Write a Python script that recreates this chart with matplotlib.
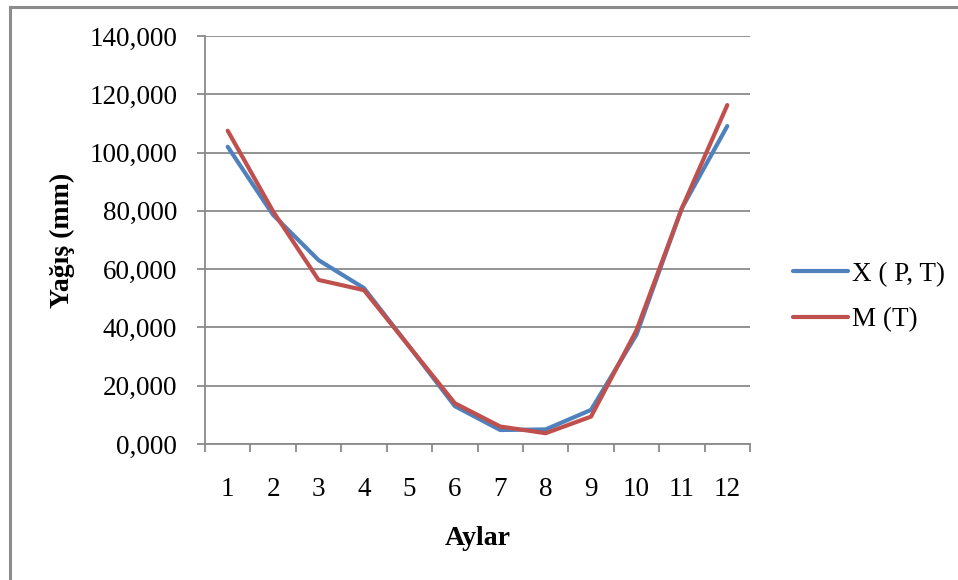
import matplotlib
matplotlib.use("Agg")
import matplotlib.pyplot as plt
from matplotlib.lines import Line2D
from matplotlib.ticker import FuncFormatter

# Monthly precipitation (mm), two estimation methods
months = [1, 2, 3, 4, 5, 6, 7, 8, 9, 10, 11, 12]
x_pt = [102.0, 78.6, 63.1, 53.5, 33.4, 13.0, 4.8, 5.0, 11.7, 37.5, 80.9, 109.1]
m_t = [107.5, 79.8, 56.3, 52.8, 33.4, 14.0, 6.0, 3.7, 9.4, 39.0, 80.9, 116.3]
series_names = ["X ( P, T)", "M (T)"]
y_ticks = [0, 20, 40, 60, 80, 100, 120, 140]

plt.rcParams['font.family'] = ['Liberation Serif', 'DejaVu Serif']

W, H = 958, 580
fig = plt.figure(figsize=(W / 100, H / 100), dpi=100)

# chart area frame (top and left edges)
fig.add_artist(Line2D([10 / W, 10 / W], [0, 1 - 7 / H], color="#8c8c8c", lw=2.2,
                      transform=fig.transFigure))
fig.add_artist(Line2D([10 / W, 1], [1 - 7 / H, 1 - 7 / H], color="#8c8c8c", lw=2.2,
                      transform=fig.transFigure))

left, right, top, bottom = 205, 750, 36, 444
ax = fig.add_axes([left / W, 1 - bottom / H, (right - left) / W, (bottom - top) / H])

grid_c = "#8a8a8a"
fs_tick = 19.5
fs_label = 20

ax.plot(months, x_pt, color="#4F81BD", lw=3.0, solid_capstyle="round",
        solid_joinstyle="round", label=series_names[0], zorder=3)
ax.plot(months, m_t, color="#C0504D", lw=3.0, solid_capstyle="round",
        solid_joinstyle="round", label=series_names[1], zorder=4)

ax.set_xlim(0.5, 12.5)
ax.set_ylim(0, 140)
ax.set_yticks(y_ticks)
ax.yaxis.set_major_formatter(FuncFormatter(lambda v, p: f"{int(v)},000"))
ax.set_xticks(months)
ax.set_xticks([m + 0.5 for m in [0] + months], minor=True)
ax.tick_params(axis="x", which="major", length=0, pad=24, labelsize=fs_tick)
ax.tick_params(axis="x", which="minor", length=6, width=1.3, color=grid_c, direction="out")
ax.tick_params(axis="y", length=6, width=1.3, color=grid_c, direction="out", pad=14,
               labelsize=fs_tick)

ax.grid(axis="y", color=grid_c, lw=1.3)
ax.set_axisbelow(True)
for s in ["top", "right"]:
    ax.spines[s].set_visible(False)
for s in ["left", "bottom"]:
    ax.spines[s].set_color(grid_c)
    ax.spines[s].set_linewidth(1.3)

ax.set_xlabel("Aylar", fontsize=fs_label, fontweight="bold", labelpad=17)
ax.set_ylabel("Yağış (mm)", fontsize=fs_label, fontweight="bold", labelpad=10)

fig.legend(*ax.get_legend_handles_labels(), loc="center left",
           bbox_to_anchor=(769 / W, 1 - 297 / H), frameon=False, fontsize=fs_tick,
           handlelength=2.0, handletextpad=0.15, labelspacing=0.75)

fig.savefig("out.png", dpi=100)
